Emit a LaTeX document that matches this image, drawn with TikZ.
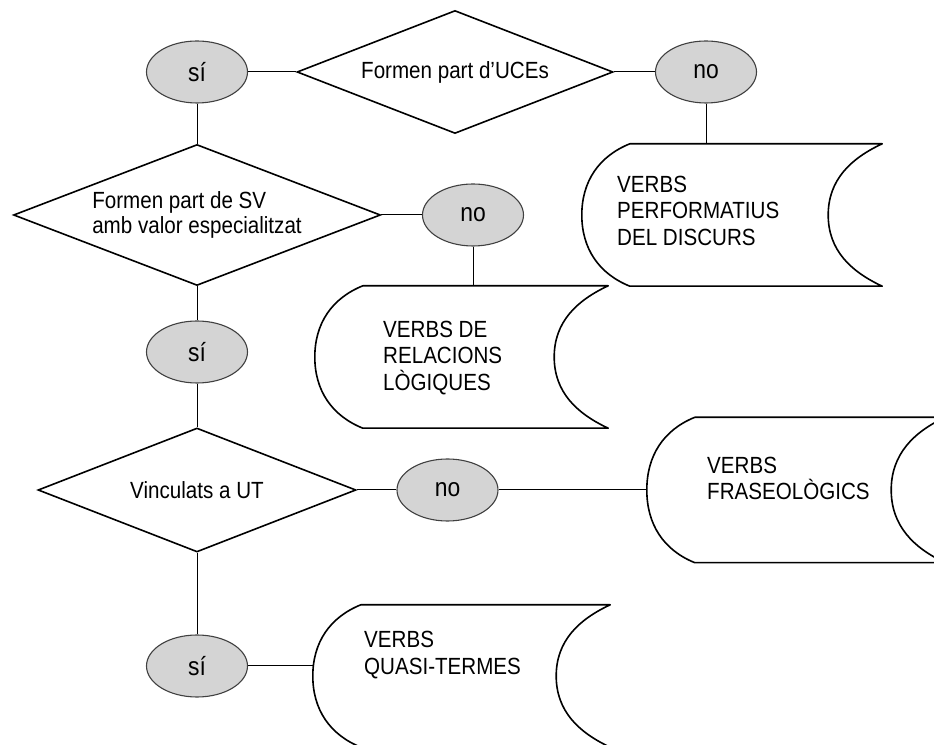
\documentclass[tikz,border=0pt]{standalone}
\usepackage{fontspec}
\setmainfont{Liberation Sans}[FakeStretch=0.88]
\usetikzlibrary{shapes.geometric}

\definecolor{answerfill}{RGB}{212,212,212}

% outline of a stored-data box drawn round an empty node
\newcommand{\storedbox}[1]{%
  \draw[boxline] ([xshift=48pt]#1.north west) -- (#1.north east)
    to[out=205,in=90] ([xshift=-54pt]#1.east)
    to[out=-90,in=155] (#1.south east)
    -- ([xshift=48pt]#1.south west)
    to[out=158,in=-90] (#1.west)
    to[out=90,in=202] ([xshift=48pt]#1.north west) -- cycle;}

\begin{document}
\begin{tikzpicture}[x=1pt,y=1pt,
    question/.style={diamond, draw, line width=1.6pt, aspect=2.6, inner sep=0pt,
      font=\fontsize{23.4}{24.3}\selectfont},
    answer/.style={ellipse, draw=black!75, line width=1.1pt, fill=answerfill,
      minimum width=101pt, minimum height=62pt, inner sep=0pt,
      font=\fontsize{26}{27}\selectfont},
    databox/.style={rectangle, inner sep=0pt, minimum height=142pt},
    boxtext/.style={anchor=west, align=left, inner sep=0pt,
      font=\fontsize{23.4}{26.5}\selectfont},
    boxline/.style={line width=1.6pt, line join=round},
    link/.style={line width=1pt}]

  \useasboundingbox (0,0) rectangle (934,744);
  \clip (0,0) rectangle (934,744);

  % first question
  \node[question, minimum width=316pt, minimum height=123pt] (uce) at (455,672) {Formen part d’UCEs};
  \node[answer] (uceyes) at (197,672) {sí};
  \node[answer] (uceno) at (706,672) {no};
  \node[databox, minimum width=300pt] (perf) at (732,529) {};
  \node[boxtext] (perftext) at (617,533.5) {VERBS\\PERFORMATIUS\\DEL DISCURS};

  % second question
  \node[question, minimum width=367pt, minimum height=141pt, align=left] (sv) at (197,529)
    {Formen part de SV\\amb valor especialitzat};
  \node[answer] (svno) at (473,529) {no};
  \node[databox, minimum width=293pt] (logic) at (461.5,387) {};
  \node[boxtext] (logictext) at (383,386) {VERBS DE\\RELACIONS\\LÒGIQUES};
  \node[answer] (svyes) at (197,392) {sí};

  % third question
  \node[question, minimum width=318pt, minimum height=124pt] (ut) at (197,254) {Vinculats a UT};
  \node[answer] (utno) at (447.5,254) {no};
  \node[databox, minimum width=298pt, minimum height=145pt] (fras) at (796,254) {};
  \node[boxtext] (frastext) at (707,265.5) {VERBS\\FRASEOLÒGICS};
  \node[answer] (utyes) at (197,78) {sí};
  \node[databox, minimum width=297pt] (quasi) at (461.5,68) {};
  \node[boxtext] (quasitext) at (364,89) {VERBS\\QUASI-TERMES};

  % box outlines
  \foreach \b in {perf,logic,fras,quasi} {\storedbox{\b}}

  % connectors
  \draw[link] (uceyes) -- (uce);
  \draw[link] (uce) -- (uceno);
  \draw[link] (uceno) -- (uceno |- perf.north);
  \draw[link] (uceyes) -- (sv);
  \draw[link] (sv) -- (svno);
  \draw[link] (svno) -- (svno |- logic.north);
  \draw[link] (sv) -- (svyes);
  \draw[link] (svyes) -- (ut);
  \draw[link] (ut) -- (utno);
  \draw[link] (utno) -- (fras.west);
  \draw[link] (ut) -- (utyes);
  \draw[link] (utyes) -- (utyes -| quasi.west);
\end{tikzpicture}
\end{document}
